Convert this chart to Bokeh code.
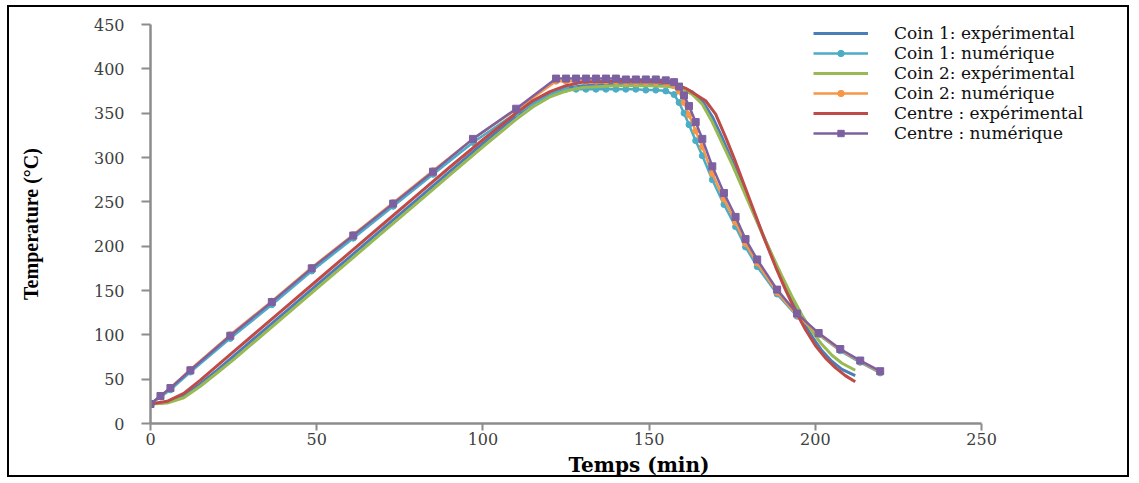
from bokeh.plotting import figure
from bokeh.models import Legend, LegendItem, FixedTicker
from bokeh.embed import file_html
from bokeh.resources import INLINE

# ---- data ----
t_c1_exp = [0,5,10,15,20,25,30,40,50,60,70,80,90,100,110,115,120,125,130,140,150,156,160,163,166,169,172,175,178,181,184,187,190,193,196,199,202,205,208,212]
T_c1_exp = [22,24,31,45,60,76,92,124,156,188,220,252,284,316,347,361,371,378,381,383,383,382,379,374,364,346,322,296,269,242,215,189,163,139,117,98,82,70,61,54]

t_c2_exp = [0,5,10,15,20,25,30,40,50,60,70,80,90,100,110,115,120,125,130,140,150,156,160,163,166,169,172,175,178,181,184,187,190,193,196,199,202,205,208,212]
T_c2_exp = [22,23,29,42,57,72,88,120,152,184,216,248,280,312,343,357,368,375,379,381,381,380,377,371,360,340,316,292,266,240,214,190,166,143,122,104,89,77,68,60]

t_ce_exp = [0,5,10,15,20,25,30,40,50,60,70,80,90,100,110,115,120,125,130,140,150,157,161,164,167,170,173,176,179,182,185,188,191,194,197,200,203,206,209,212]
T_ce_exp = [22,25,34,49,65,81,97,129,161,193,225,257,289,320,350,364,374,381,385,386,386,384,378,371,364,349,323,295,265,235,205,177,151,127,106,88,74,63,54,47]

t_num = [0,3,6,12,24,36.5,48.5,61,73,85,97,110,122,125,128,131,134,137,140,143,146,149,152,155,157.5,159,160.5,162,164,166,169,172.5,176,179,182.5,188.5,194.5,201,207.5,213.5,219.5]
T_c1_num = [22,30,38,58,96,134,172,209,245,281,317,350,374,377,377,377,377,377,377,377,377,376,376,375,371,362,350,337,319,302,275,247,222,199,177,146,121,100,82,69,57]
T_c2_num = [22,31,40,61,100,138,176,213,249,285,321,354,386,386,386,386,386,386,386,385,385,385,385,384,381,375,362,348,330,312,282,253,227,203,181,148,122,101,83,70,58]
T_ce_num = [22,31,40,60,99,137,175,212,248,284,321,355,389,389,389,389,389,389,389,388,388,388,388,387,385,380,370,358,340,321,290,260,233,208,185,151,124,102,84,71,59]

labels = ["Coin 1: expérimental", "Coin 1: numérique", "Coin 2: expérimental",
          "Coin 2: numérique", "Centre : expérimental", "Centre : numérique"]
x_ticks = [0, 50, 100, 150, 200, 250]
y_ticks = [0, 50, 100, 150, 200, 250, 300, 350, 400, 450]

BLUE, CYAN, GREEN, ORANGE, RED, PURPLE = "#4A7EBB", "#4BACC6", "#98B954", "#F79646", "#BE4B48", "#7D60A0"

# frame spans 150..1127 px, axis 0..250 spans 150..981 px
p = figure(width=1122, height=472, output_backend="svg", toolbar_location=None,
           x_range=(0, 293.9), y_range=(0, 450),
           min_border_left=141, min_border_right=4, min_border_top=17, min_border_bottom=56)
p.styles = {"border": "2px solid black", "margin-left": "7px", "margin-top": "5px"}
p.outline_line_color = None
p.xgrid.visible = False
p.ygrid.visible = False

items = []
r1 = p.line(t_c1_exp, T_c1_exp, line_color=BLUE, line_width=3)
items.append(LegendItem(label=labels[0], renderers=[r1]))
r2 = p.line(t_num, T_c1_num, line_color=CYAN, line_width=2.5)
s2 = p.scatter(t_num, T_c1_num, marker="circle", size=6, color=CYAN)
items.append(LegendItem(label=labels[1], renderers=[r2, s2]))
r3 = p.line(t_c2_exp, T_c2_exp, line_color=GREEN, line_width=3)
items.append(LegendItem(label=labels[2], renderers=[r3]))
r4 = p.line(t_num, T_c2_num, line_color=ORANGE, line_width=2.5)
s4 = p.scatter(t_num, T_c2_num, marker="circle", size=6, color=ORANGE)
items.append(LegendItem(label=labels[3], renderers=[r4, s4]))
r5 = p.line(t_ce_exp, T_ce_exp, line_color=RED, line_width=3)
items.append(LegendItem(label=labels[4], renderers=[r5]))
r6 = p.line(t_num, T_ce_num, line_color=PURPLE, line_width=2.5)
s6 = p.scatter(t_num, T_ce_num, marker="square", size=7, color=PURPLE)
items.append(LegendItem(label=labels[5], renderers=[r6, s6]))

legend = Legend(items=items, location=(663, 280))
legend.background_fill_alpha = 0
legend.border_line_alpha = 0
legend.padding = 0
legend.margin = 0
legend.spacing = -5
legend.glyph_width = 55
legend.glyph_height = 16
legend.label_height = 16
legend.label_standoff = 26
legend.label_text_font = "DejaVu Serif"
legend.label_text_font_size = "17px"
legend.label_text_color = "#111111"
p.add_layout(legend, "center")

for ax in (p.xaxis[0], p.yaxis[0]):
    ax.axis_line_color = "#8C8C8C"
    ax.axis_line_width = 2.5
    ax.major_tick_line_color = "#8C8C8C"
    ax.major_tick_line_width = 2
    ax.major_tick_in = 0
    ax.minor_tick_line_color = None
    ax.major_label_text_font = "DejaVu Serif"
    ax.major_label_text_font_size = "16px"
    ax.major_label_text_color = "#404040"

p.xaxis[0].bounds = (0, 250)
p.xaxis[0].ticker = FixedTicker(ticks=x_ticks)
p.yaxis[0].ticker = FixedTicker(ticks=y_ticks)
p.xaxis[0].major_tick_out = 7
p.yaxis[0].major_tick_out = 9
p.xaxis[0].major_label_standoff = 2
p.yaxis[0].major_label_standoff = 17

p.xaxis[0].axis_label = "Temps (min)"
p.xaxis[0].axis_label_text_font = "DejaVu Serif"
p.xaxis[0].axis_label_text_font_style = "bold"
p.xaxis[0].axis_label_text_font_size = "20px"
p.xaxis[0].axis_label_text_color = "#000000"
p.xaxis[0].axis_label_standoff = 5

p.yaxis[0].axis_label = "Temperature (°C)"
p.yaxis[0].axis_label_text_font = "Liberation Serif"
p.yaxis[0].axis_label_text_font_style = "bold"
p.yaxis[0].axis_label_text_font_size = "20px"
p.yaxis[0].axis_label_text_color = "#000000"
p.yaxis[0].axis_label_standoff = 49

open("out.html", "w").write(file_html(p, INLINE))
